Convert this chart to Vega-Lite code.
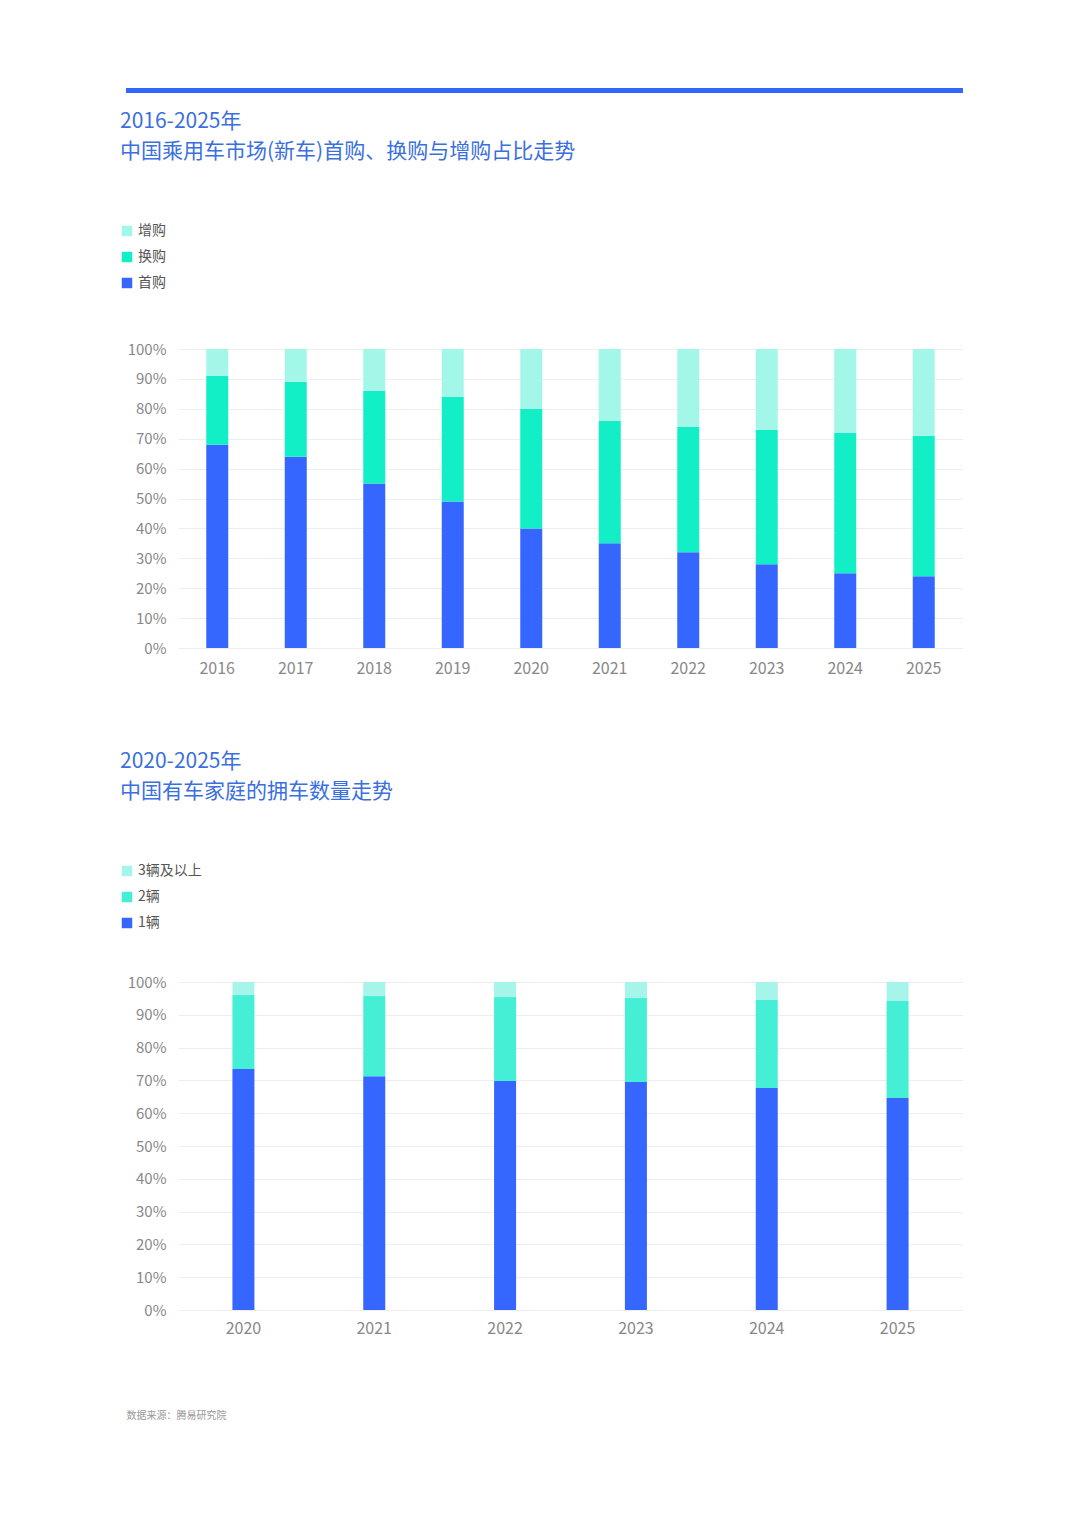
{
"$schema":"https://vega.github.io/schema/vega-lite/v6.json",
"background":"white",
"padding":{"left":120,"top":88,"right":10,"bottom":10},
"config":{"font":"Noto Sans CJK SC","view":{"stroke":null},
 "axis":{"labelColor":"#888888","labelFont":"Noto Sans CJK SC","labelFontSize":15,"ticks":false,"domain":false,"gridColor":"#eeeeee","labelOverlap":false},
 "legend":{"labelFontSize":14,"labelColor":"#555555","symbolType":"square","symbolSize":110,"rowPadding":12},
 "title":{"anchor":"start","frame":"bounds","color":"#3a6fe0","fontSize":21,"fontWeight":"normal","lineHeight":30}},
"spacing":18,
"vconcat":[
{"width":785,"height":1,
 "data":{"values":[{"a":-0.0662,"b":1}]},
 "mark":{"type":"rule","color":"#3366ff","strokeWidth":5,"clip":false},
 "encoding":{"x":{"field":"a","type":"quantitative","scale":{"domain":[0,1]},"axis":null},"x2":{"field":"b"}}},
{"spacing":75,"vconcat":[
{"width":785,"height":299,
 "title":{"text":["2016-2025年","中国乘用车市场(新车)首购、换购与增购占比走势"],"offset":62},
 "data":{"values":[
 {"y":"2016","t":"首购","v":68,"o":1},{"y":"2016","t":"换购","v":23,"o":2},{"y":"2016","t":"增购","v":9,"o":3},
 {"y":"2017","t":"首购","v":64,"o":1},{"y":"2017","t":"换购","v":25,"o":2},{"y":"2017","t":"增购","v":11,"o":3},
 {"y":"2018","t":"首购","v":55,"o":1},{"y":"2018","t":"换购","v":31,"o":2},{"y":"2018","t":"增购","v":14,"o":3},
 {"y":"2019","t":"首购","v":49,"o":1},{"y":"2019","t":"换购","v":35,"o":2},{"y":"2019","t":"增购","v":16,"o":3},
 {"y":"2020","t":"首购","v":40,"o":1},{"y":"2020","t":"换购","v":40,"o":2},{"y":"2020","t":"增购","v":20,"o":3},
 {"y":"2021","t":"首购","v":35,"o":1},{"y":"2021","t":"换购","v":41,"o":2},{"y":"2021","t":"增购","v":24,"o":3},
 {"y":"2022","t":"首购","v":32,"o":1},{"y":"2022","t":"换购","v":42,"o":2},{"y":"2022","t":"增购","v":26,"o":3},
 {"y":"2023","t":"首购","v":28,"o":1},{"y":"2023","t":"换购","v":45,"o":2},{"y":"2023","t":"增购","v":27,"o":3},
 {"y":"2024","t":"首购","v":25,"o":1},{"y":"2024","t":"换购","v":47,"o":2},{"y":"2024","t":"增购","v":28,"o":3},
 {"y":"2025","t":"首购","v":24,"o":1},{"y":"2025","t":"换购","v":47,"o":2},{"y":"2025","t":"增购","v":29,"o":3}]},
 "mark":{"type":"bar","size":22},
 "encoding":{
  "x":{"field":"y","type":"nominal","title":null,"axis":{"labelAngle":0,"labelFontSize":16,"labelPadding":12}},
  "y":{"field":"v","type":"quantitative","stack":"normalize","title":null,"axis":{"format":"%","values":[0,0.1,0.2,0.3,0.4,0.5,0.6,0.7,0.8,0.9,1],"labelPadding":12}},
  "order":{"field":"o"},
  "color":{"field":"t","type":"nominal","scale":{"domain":["增购","换购","首购"],"range":["#a2f7e8","#12efc6","#3566ff"]},
   "legend":{"title":null,"orient":"none","legendX":-58,"legendY":-125}}}},
{"width":785,"height":328,
 "title":{"text":["2020-2025年","中国有车家庭的拥车数量走势"],"offset":62},
 "data":{"values":[
 {"y":"2020","t":"1辆","v":73.5,"o":1},{"y":"2020","t":"2辆","v":22.5,"o":2},{"y":"2020","t":"3辆及以上","v":4,"o":3},
 {"y":"2021","t":"1辆","v":71.3,"o":1},{"y":"2021","t":"2辆","v":24.4,"o":2},{"y":"2021","t":"3辆及以上","v":4.3,"o":3},
 {"y":"2022","t":"1辆","v":69.8,"o":1},{"y":"2022","t":"2辆","v":25.6,"o":2},{"y":"2022","t":"3辆及以上","v":4.6,"o":3},
 {"y":"2023","t":"1辆","v":69.5,"o":1},{"y":"2023","t":"2辆","v":25.6,"o":2},{"y":"2023","t":"3辆及以上","v":4.9,"o":3},
 {"y":"2024","t":"1辆","v":67.7,"o":1},{"y":"2024","t":"2辆","v":26.8,"o":2},{"y":"2024","t":"3辆及以上","v":5.5,"o":3},
 {"y":"2025","t":"1辆","v":64.6,"o":1},{"y":"2025","t":"2辆","v":29.6,"o":2},{"y":"2025","t":"3辆及以上","v":5.8,"o":3}]},
 "mark":{"type":"bar","size":22},
 "encoding":{
  "x":{"field":"y","type":"nominal","title":"数据来源：腾易研究院","axis":{"labelAngle":0,"labelFontSize":16,"labelPadding":10,"titleFontSize":10,"titleColor":"#999999","titleFontWeight":"normal","titleAnchor":"start","titleAlign":"left","titleX":-52,"titleY":100}},
  "y":{"field":"v","type":"quantitative","stack":"normalize","title":null,"axis":{"format":"%","values":[0,0.1,0.2,0.3,0.4,0.5,0.6,0.7,0.8,0.9,1],"labelPadding":12}},
  "order":{"field":"o"},
  "color":{"field":"t","type":"nominal","scale":{"domain":["3辆及以上","2辆","1辆"],"range":["#a6f5ea","#44efd6","#3566ff"]},
   "legend":{"title":null,"orient":"none","legendX":-58,"legendY":-118}}}}
],
"resolve":{"scale":{"color":"independent"},"legend":{"color":"independent"}}}
],
"resolve":{"scale":{"color":"independent"},"legend":{"color":"independent"}}
}
